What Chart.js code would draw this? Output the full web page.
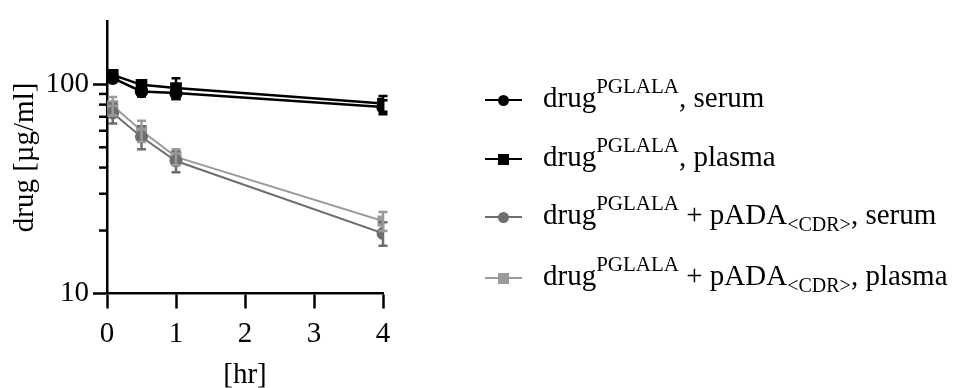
<!DOCTYPE html>
<html>
<head>
<meta charset="utf-8">
<script src="https://cdn.jsdelivr.net/npm/chart.js@4.4.1/dist/chart.umd.min.js"></script>
<style>
  html, body { margin: 0; padding: 0; background: #fff; }
  #wrap { position: relative; width: 954px; height: 388px; }
  #legend { position: absolute; left: 0; top: 0; font-family: "Liberation Serif", serif; font-size: 29px; color: #000; }
  .row { position: absolute; left: 485px; height: 30px; white-space: nowrap; }
  .row .ln { position: absolute; left: 0; top: 0; width: 37px; height: 2px; }
  .row .mk { position: absolute; left: 13px; top: -4px; width: 11px; height: 11px; }
  .row .mk.circle { border-radius: 50%; }
  .row .txt { position: absolute; left: 58px; top: -17px; line-height: 30px; }
  .row sup { font-size: 21px; position: relative; top: -3px; vertical-align: super; line-height: 0; }
  .row sub { font-size: 20px; vertical-align: sub; line-height: 0; }
</style>
</head>
<body>
<div id="wrap">
  <canvas id="pkChart"></canvas>
  <div id="legend"></div>
</div>
<script>
// sampling times
const timeHr = [0.083, 0.5, 1, 4];

// series means and SD
const serumDrug = [107, 92.5, 91, 78];
const serumDrugErr = [3, 5, 6, 6];
const plasmaDrug = [111, 99.5, 96, 81];
const plasmaDrugErr = [3, 5, 11, 7];
const serumAda = [73, 56, 43, 19.4];
const serumAdaErr = [8, 7, 5, 2.5];
const plasmaAda = [79, 60, 45, 22.2];
const plasmaAdaErr = [8, 7, 4, 2.3];

const xTicks = [0, 1, 2, 3, 4];
const yTicks = [10, 20, 30, 40, 50, 60, 70, 80, 90, 100];
const yTickLabels = [10, 100];

const seriesNames = ['serum', 'plasma', 'serum', 'plasma'];

function pts(vals){
  return timeHr.map((t, i) => ({x: t, y: vals[i]}));
}

const FONT = 'Liberation Serif';

// error bars + minor y ticks
const errorBars = {
  id: 'errorBars',
  afterDatasetsDraw(chart){
    const c = chart.ctx;
    const y = chart.scales.y;
    const x = chart.scales.x;
    chart.data.datasets.forEach((ds, di) => {
      const err = ds.errors;
      c.save();
      c.strokeStyle = ds.borderColor;
      c.lineWidth = 2.5;
      ds.data.forEach((p, i) => {
        const px = x.getPixelForValue(p.x);
        const top = y.getPixelForValue(p.y + err[i]);
        const bot = y.getPixelForValue(p.y - err[i]);
        c.beginPath();
        c.moveTo(px, top); c.lineTo(px, bot);
        c.moveTo(px - 4.5, top); c.lineTo(px + 4.5, top);
        c.moveTo(px - 4.5, bot); c.lineTo(px + 4.5, bot);
        c.stroke();
      });
      c.restore();
    });
  },
  afterDraw(chart){
    const c = chart.ctx;
    const y = chart.scales.y;
    const left = chart.chartArea.left;
    c.save();
    c.strokeStyle = '#000';
    c.lineWidth = 2.5;
    yTicks.forEach(v => {
      if (yTickLabels.includes(v)) return;
      const py = y.getPixelForValue(v);
      c.beginPath();
      c.moveTo(left - 8, py); c.lineTo(left, py);
      c.stroke();
    });
    c.restore();
  }
};

const ctx = document.getElementById('pkChart').getContext('2d');
const myChart = new Chart(ctx, {
  type: 'line',
  data: {
    datasets: [
      {label: 'serumAda', data: pts(serumAda), errors: serumAdaErr, borderColor: '#6e6e6e', backgroundColor: '#6e6e6e', pointStyle: 'circle', pointRadius: 5.5, borderWidth: 2},
      {label: 'plasmaAda', data: pts(plasmaAda), errors: plasmaAdaErr, borderColor: '#9b9b9b', backgroundColor: '#9b9b9b', pointStyle: 'rect', pointRadius: 6.5, borderWidth: 2},
      {label: 'serumDrug', data: pts(serumDrug), errors: serumDrugErr, borderColor: '#000', backgroundColor: '#000', pointStyle: 'circle', pointRadius: 5.5, borderWidth: 2.5},
      {label: 'plasmaDrug', data: pts(plasmaDrug), errors: plasmaDrugErr, borderColor: '#000', backgroundColor: '#000', pointStyle: 'rect', pointRadius: 6.5, borderWidth: 2.5}
    ]
  },
  options: {
    responsive: true,
    maintainAspectRatio: false,
    animation: false,
    elements: { line: { tension: 0 }, point: { borderWidth: 0 } },
    layout: { padding: { left: 0, top: 16, right: 571, bottom: 0 } },
    plugins: { legend: { display: false }, tooltip: { enabled: false } },
    scales: {
      x: {
        type: 'linear', min: 0, max: 4,
        afterBuildTicks: s => { s.ticks = xTicks.map(v => ({value: v})); },
        afterFit: s => { s.height = 94.5; },
        border: { color: '#000', width: 2.5 },
        grid: { drawOnChartArea: false, tickLength: 15, tickWidth: 2.5, tickColor: '#000' },
        ticks: { color: '#000', font: { family: FONT, size: 29 }, padding: 8, maxRotation: 0 },
        title: { display: true, text: '[hr]', color: '#000', font: { family: FONT, size: 29 }, padding: { top: 0, bottom: -5 } }
      },
      y: {
        type: 'logarithmic', min: 10, max: 200,
        afterBuildTicks: s => { s.ticks = yTicks.map(v => ({value: v})); },
        afterFit: s => { s.width = 107; },
        border: { color: '#000', width: 2.5 },
        grid: { drawOnChartArea: false, tickLength: 14, tickWidth: 2.5,
          tickColor: c => (c.tick && yTickLabels.includes(c.tick.value)) ? '#000' : 'rgba(0,0,0,0)' },
        ticks: { color: '#000', font: { family: FONT, size: 29 }, padding: 4, autoSkip: false,
          callback: v => yTickLabels.includes(v) ? String(v) : '' },
        title: { display: true, text: 'drug [µg/ml]', color: '#000', font: { family: FONT, size: 29 }, padding: { top: 8, bottom: 0 } }
      }
    }
  },
  plugins: [errorBars]
});

// html legend (needs super/subscripts)
const legendRows = [
  {color: '#000', shape: 'circle', html: 'drug<sup>PGLALA</sup>, ' + seriesNames[0], top: 99},
  {color: '#000', shape: 'square', html: 'drug<sup>PGLALA</sup>, ' + seriesNames[1], top: 158},
  {color: '#6e6e6e', shape: 'circle', html: 'drug<sup>PGLALA</sup> + pADA<sub>&lt;CDR&gt;</sub>, ' + seriesNames[2], top: 216},
  {color: '#9b9b9b', shape: 'square', html: 'drug<sup>PGLALA</sup> + pADA<sub>&lt;CDR&gt;</sub>, ' + seriesNames[3], top: 277}
];
const legendEl = document.getElementById('legend');
legendRows.forEach(r => {
  const row = document.createElement('div');
  row.className = 'row';
  row.style.top = r.top + 'px';
  row.innerHTML = '<div class="ln" style="background:' + r.color + '"></div>' +
    '<div class="mk ' + r.shape + '" style="background:' + r.color + '"></div>' +
    '<div class="txt">' + r.html + '</div>';
  legendEl.appendChild(row);
});
</script>
</body>
</html>
